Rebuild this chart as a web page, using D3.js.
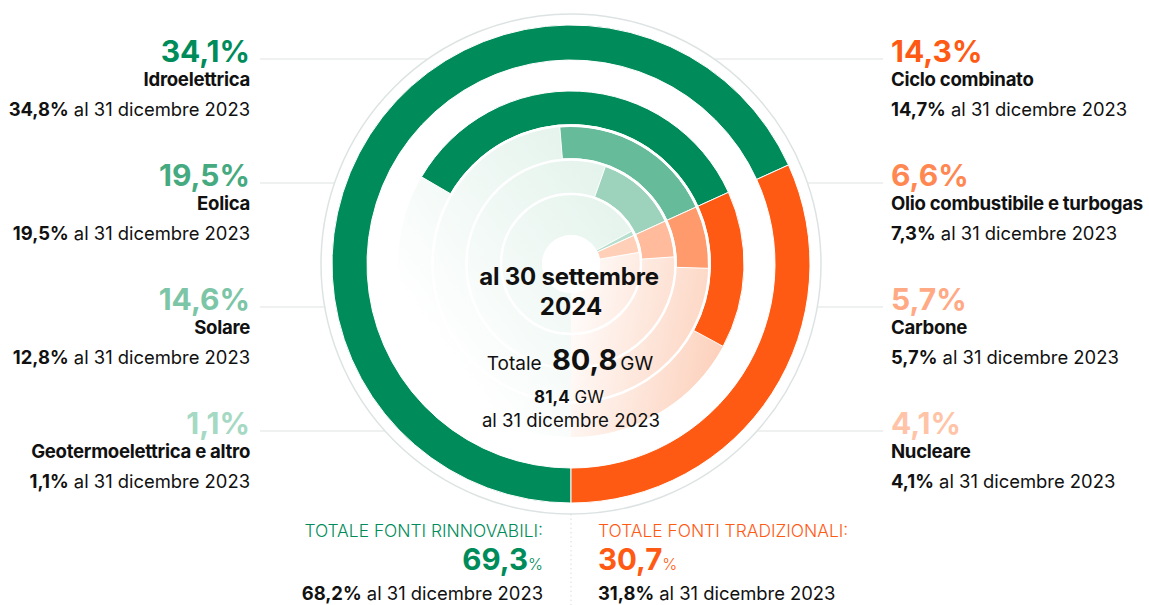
<!DOCTYPE html>
<html>
<head>
<meta charset="utf-8">
<script src="https://cdn.jsdelivr.net/npm/d3@7"></script>
<style>
  html, body { margin: 0; padding: 0; background: #ffffff; }
  svg { display: block; font-family: Inter, "Noto Sans", sans-serif; }
</style>
</head>
<body>
<svg id="chart" width="1149" height="605"></svg>
<script>
// ---------- DATA ----------
const renewables = ["Idroelettrica", "Eolica", "Solare", "Geotermoelettrica e altro"];
const renewShare2024 = [34.1, 19.5, 14.6, 1.1];
const renewShare2023 = [34.8, 19.5, 12.8, 1.1];
const traditional = ["Ciclo combinato", "Olio combustibile e turbogas", "Carbone", "Nucleare"];
const tradShare2024 = [14.3, 6.6, 5.7, 4.1];
const tradShare2023 = [14.7, 7.3, 5.7, 4.1];
const groupNames = ["TOTALE FONTI RINNOVABILI:", "TOTALE FONTI TRADIZIONALI:"];
const groupShare2024 = [69.3, 30.7];
const groupShare2023 = [68.2, 31.8];
const totalGW = [80.8, 81.4]; // 30 set 2024, 31 dic 2023
const dateNow = ["al 30 settembre", "2024"];
const dateRef = "al 31 dicembre 2023";

// ---------- STYLE ----------
const greenFill = ["#008c5a", "#66bb9b", "#9dd3bd", "#b6dfcd"];
const greenText = ["#008c5a", "#45aa80", "#7cc5a6", "#a6d9c3"];
const orangeFill = ["#ff5a14", "#ff9a6c", "#ffbb9b", "#ffcfb7"];
const orangeText = ["#ff5a14", "#ff8752", "#ffa985", "#ffc4a8"];
const groupColor = ["#008c5a", "#ff5a14"];

const locale = d3.formatLocale({decimal: ",", thousands: ".", grouping: [3], currency: ["€", ""]});
const f1 = locale.format(".1f");

const svg = d3.select("#chart");
const cx = 571, cy = 264;
const g = svg.append("g").attr("transform", `translate(${cx},${cy})`);

const ang = d3.scaleLinear().domain([0, 100]).range([0, 2 * Math.PI]);
const boundary = -Math.PI + ang(groupShare2023[0]);

// gradients
const defs = svg.append("defs");
const gg = defs.append("linearGradient").attr("id", "gGreen").attr("gradientUnits", "userSpaceOnUse")
  .attr("x1", 140).attr("y1", -160).attr("x2", -150).attr("y2", 60);
gg.append("stop").attr("offset", 0).attr("stop-color", "#d6ede2");
gg.append("stop").attr("offset", 1).attr("stop-color", "#ffffff");
const go = defs.append("linearGradient").attr("id", "gOrange").attr("gradientUnits", "userSpaceOnUse")
  .attr("x1", 180).attr("y1", 70).attr("x2", -10).attr("y2", 35);
go.append("stop").attr("offset", 0).attr("stop-color", "#fccab2");
go.append("stop").attr("offset", 1).attr("stop-color", "#ffffff");

// leader lines
const rowY = [59, 183, 307, 431];
const rGray = 250;
rowY.forEach(y => {
  const dy = y - cy;
  const dx = Math.sqrt(rGray * rGray - dy * dy);
  svg.append("line").attr("x1", 260).attr("x2", cx - dx).attr("y1", y).attr("y2", y)
    .attr("stroke", "#dfe4e4").attr("stroke-width", 1.2);
  svg.append("line").attr("x1", cx + dx).attr("x2", 883).attr("y1", y).attr("y2", y)
    .attr("stroke", "#dfe4e4").attr("stroke-width", 1.2);
});

// outer gray circle
g.append("circle").attr("r", rGray).attr("fill", "#ffffff").attr("stroke", "#dde3e3").attr("stroke-width", 1.5);

const arc = d3.arc();
const bgInner = 29, bgOuter = 173;
// background sectors
g.append("path").attr("d", arc({innerRadius: bgInner, outerRadius: bgOuter, startAngle: -Math.PI, endAngle: boundary}))
  .attr("fill", "url(#gGreen)");
g.append("path").attr("d", arc({innerRadius: bgInner, outerRadius: bgOuter, startAngle: boundary, endAngle: Math.PI}))
  .attr("fill", "url(#gOrange)");

// outer ring
const outer = [204, 239];
g.append("path").attr("d", arc({innerRadius: outer[0], outerRadius: outer[1], startAngle: boundary - ang(groupShare2023[0]), endAngle: boundary}))
  .attr("fill", groupColor[0]).attr("stroke", "#fff").attr("stroke-width", 1);
g.append("path").attr("d", arc({innerRadius: outer[0], outerRadius: outer[1], startAngle: boundary, endAngle: boundary + ang(groupShare2023[1])}))
  .attr("fill", groupColor[1]).attr("stroke", "#fff").attr("stroke-width", 1);

// inner rings
const rings = [[139.5, 173], [105.5, 137.5], [71, 103.5], [29, 69]];
renewShare2023.forEach((v, i) => {
  g.append("path").attr("d", arc({innerRadius: rings[i][0], outerRadius: rings[i][1], startAngle: boundary - ang(v), endAngle: boundary}))
    .attr("fill", greenFill[i]).attr("stroke", "#fff").attr("stroke-width", 1);
});
tradShare2023.forEach((v, i) => {
  g.append("path").attr("d", arc({innerRadius: rings[i][0], outerRadius: rings[i][1], startAngle: boundary, endAngle: boundary + ang(v)}))
    .attr("fill", orangeFill[i]).attr("stroke", "#fff").attr("stroke-width", 1);
});
// ring separators
[138.5, 104.5, 70].forEach(r => g.append("circle").attr("r", r).attr("fill", "none").attr("stroke", "#fff").attr("stroke-width", 2.5));
g.append("circle").attr("r", bgInner).attr("fill", "#fff");

// side labels
function label(x, y, anchor, pct, pctColor, name, ref) {
  const t = svg.append("g");
  t.append("text").attr("x", x).attr("y", y + 2.7).attr("text-anchor", anchor)
    .attr("font-size", 30).attr("font-weight", 700).attr("fill", pctColor).text(f1(pct) + "%");
  t.append("text").attr("x", x).attr("y", y + 26.5).attr("text-anchor", anchor)
    .attr("font-size", 18.6).attr("font-weight", 700).attr("fill", "#111").attr("letter-spacing", -0.3).text(name);
  const s = t.append("text").attr("x", x).attr("y", y + 56.5).attr("text-anchor", anchor)
    .attr("font-size", 18.4).attr("fill", "#111");
  s.append("tspan").attr("font-weight", 700).text(f1(ref) + "%");
  s.append("tspan").attr("font-weight", 400).text(" " + dateRef);
}
renewables.forEach((n, i) => label(250, rowY[i], "end", renewShare2024[i], greenText[i], n, renewShare2023[i]));
traditional.forEach((n, i) => label(891, rowY[i], "start", tradShare2024[i], orangeText[i], n, tradShare2023[i]));

// center text
const ct = svg.append("g").attr("fill", "#111").attr("text-anchor", "middle");
ct.append("text").attr("x", 569).attr("y", 285).attr("font-size", 24).attr("font-weight", 700).attr("letter-spacing", -0.2).text(dateNow[0]);
ct.append("text").attr("x", 571).attr("y", 315).attr("font-size", 24).attr("font-weight", 700).text(dateNow[1]);
const tt = ct.append("text").attr("x", 570).attr("y", 370);
tt.append("tspan").attr("font-size", 19).attr("font-weight", 400).text("Totale ");
tt.append("tspan").attr("font-size", 29).attr("font-weight", 700).attr("dx", 5).text(f1(totalGW[0]));
tt.append("tspan").attr("font-size", 19).attr("font-weight", 400).attr("dx", 3).text("GW");
const t2 = ct.append("text").attr("x", 569).attr("y", 402.5);
t2.append("tspan").attr("font-size", 17).attr("font-weight", 700).text(f1(totalGW[1]));
t2.append("tspan").attr("font-size", 17).attr("font-weight", 400).text(" GW");
ct.append("text").attr("x", 571).attr("y", 426.5).attr("font-size", 18.6).attr("font-weight", 400).text(dateRef);

// bottom totals
svg.append("line").attr("x1", cx).attr("x2", cx).attr("y1", 514).attr("y2", 605)
  .attr("stroke", "#d8dcdc").attr("stroke-width", 1).attr("stroke-dasharray", "1.5,3");
[[543, "end"], [598, "start"]].forEach(([x, anchor], i) => {
  svg.append("text").attr("x", x).attr("y", 536.7).attr("text-anchor", anchor)
    .attr("font-size", 17.4).attr("font-weight", 300).attr("fill", groupColor[i]).text(groupNames[i]);
  const p = svg.append("text").attr("x", x).attr("y", 570).attr("text-anchor", anchor).attr("fill", groupColor[i]);
  p.append("tspan").attr("font-size", 29.5).attr("font-weight", 700).text(f1(groupShare2024[i]));
  p.append("tspan").attr("font-size", 16).attr("font-weight", 300).text("%");
  const s = svg.append("text").attr("x", x).attr("y", 599.5).attr("text-anchor", anchor)
    .attr("font-size", 18.4).attr("fill", "#111");
  s.append("tspan").attr("font-weight", 700).text(f1(groupShare2023[i]) + "%");
  s.append("tspan").attr("font-weight", 400).text(" " + dateRef);
});
</script>
</body>
</html>
